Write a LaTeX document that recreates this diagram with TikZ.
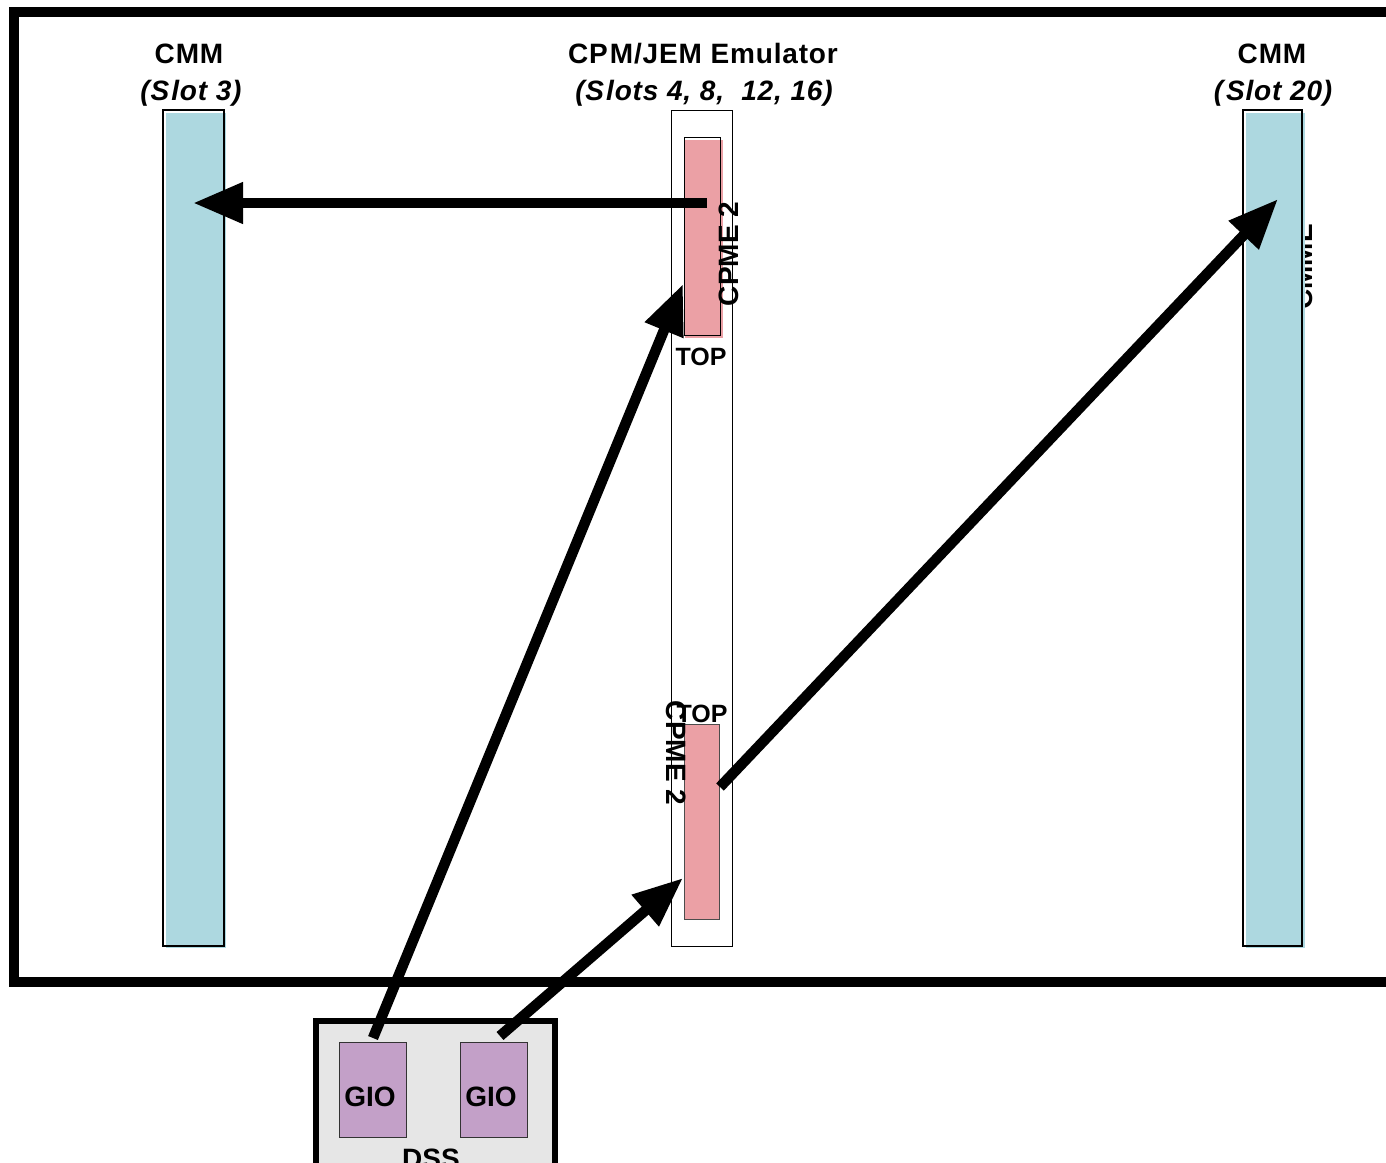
\documentclass[tikz,border=0pt]{standalone}
\usepackage{fontspec}
\setmainfont{Liberation Sans}
\usetikzlibrary{arrows.meta}
\definecolor{cmmblue}{HTML}{ADD8E0}
\definecolor{cpmepink}{HTML}{EBA0A5}
\definecolor{giopurple}{HTML}{C3A0C8}
\definecolor{dssgrey}{HTML}{E6E6E6}
\begin{document}
\begin{tikzpicture}[x=1pt,y=-1pt,
  title/.style={font=\fontsize{28}{32}\selectfont\bfseries\addfontfeature{LetterSpace=3}, inner sep=0pt, anchor=base},
  subtitle/.style={font=\fontsize{28}{32}\selectfont\bfseries\itshape\addfontfeature{LetterSpace=3}, inner sep=0pt, anchor=base},
  giolbl/.style={font=\fontsize{28}{32}\selectfont\bfseries, inner sep=0pt, anchor=base},
  sidelbl/.style={font=\fontsize{28}{32}\selectfont\bfseries, inner sep=0pt, anchor=center},
  toplbl/.style={font=\fontsize{25}{28}\selectfont\bfseries, inner sep=0pt, anchor=base},
  slotbox/.style={draw=black, line width=1.2pt, minimum width=#1, inner sep=0pt, minimum height=836pt},
  giobox/.style={draw=black!80, line width=1pt, fill=giopurple, minimum width=67pt, minimum height=95pt, inner sep=0pt},
  bigarrow/.style={line width=10.5pt, -{Triangle[length=50pt,width=39pt]}}]
\useasboundingbox (0,0) rectangle (1386,1162);
\clip (0,0) rectangle (1386,1162);

% crate frame
\node[draw=black, line width=10pt, minimum width=1400pt, minimum height=970pt, inner sep=0pt, anchor=north west] (crate) at (9,7) {};

% DSS box
\node[draw=black, line width=6pt, fill=dssgrey, minimum width=239pt, minimum height=190pt, inner sep=0pt, anchor=north west] (dss) at (313,1018) {};
\node[giobox] (gioA) at (372.5,1089.5) {};
\node[giobox] (gioB) at (494,1089.5) {};
\node[giolbl] (gioAt) at (370,1106) {GIO};
\node[giolbl] (gioBt) at (491,1106) {GIO};
\node[giolbl] (dsst) at (431,1168) {DSS};

% left CMM
\fill[cmmblue] (166,113) rectangle (226,948);
\node[slotbox=61pt] (cmmL) at (193.5,528) {};

% right CMM
\node[sidelbl, rotate=90] (cmmRt) at (1303,267) {CMME};
\fill[cmmblue] (1246,113) rectangle (1305,948);
\node[slotbox=59pt] (cmmR) at (1272.5,528) {};

% emulator
\node[draw=black, line width=0.8pt, fill=white, minimum width=61pt, minimum height=836pt, inner sep=0pt] (emu) at (701.5,528) {};
\fill[cpmepink] (685,140) rectangle (723,338);
\node[draw=black, line width=1pt, minimum width=36pt, minimum height=198pt, inner sep=0pt] (cpmeT) at (702,236) {};
\node[draw=black!70, line width=1pt, fill=cpmepink, minimum width=35pt, minimum height=195pt, inner sep=0pt] (cpmeB) at (701.5,821.5) {};
\node[sidelbl, rotate=90] (cpmeTt) at (729,254) {CPME 2};
\node[toplbl] (topT) at (701,365) {TOP};
\node[toplbl] (topB) at (702,722) {TOP};
\node[sidelbl, rotate=-90] (cpmeBt) at (676,753) {CPME 2};

% titles
\node[title] (t1) at (189,63) {CMM};
\node[subtitle] (s1) at (191,100) {(S\kern2pt lot 3)};
\node[title] (t2) at (703,63) {CP\kern2pt M/JEM Emulator};
\node[subtitle] (s2) at (704,100) {(S\kern2pt lots 4, 8, \ 12, 16)};
\node[title] (t3) at (1272,63) {CMM};
\node[subtitle] (s3) at (1273,100) {(\kern3pt Slot 20)};

% arrow end points
\coordinate (a1s) at (707,203);
\coordinate (a1e) at (193,203);
\coordinate (a2s) at (373,1038);
\coordinate (a2e) at (683,284);
\coordinate (a3s) at (500,1036);
\coordinate (a3e) at (683,878);
\coordinate (a4s) at (720,787);
\coordinate (a4e) at (1278,199);

\draw[bigarrow] (a1s) -- (a1e);
\draw[bigarrow] (a2s) -- (a2e);
\draw[bigarrow] (a3s) -- (a3e);
\draw[bigarrow] (a4s) -- (a4e);
\end{tikzpicture}
\end{document}
